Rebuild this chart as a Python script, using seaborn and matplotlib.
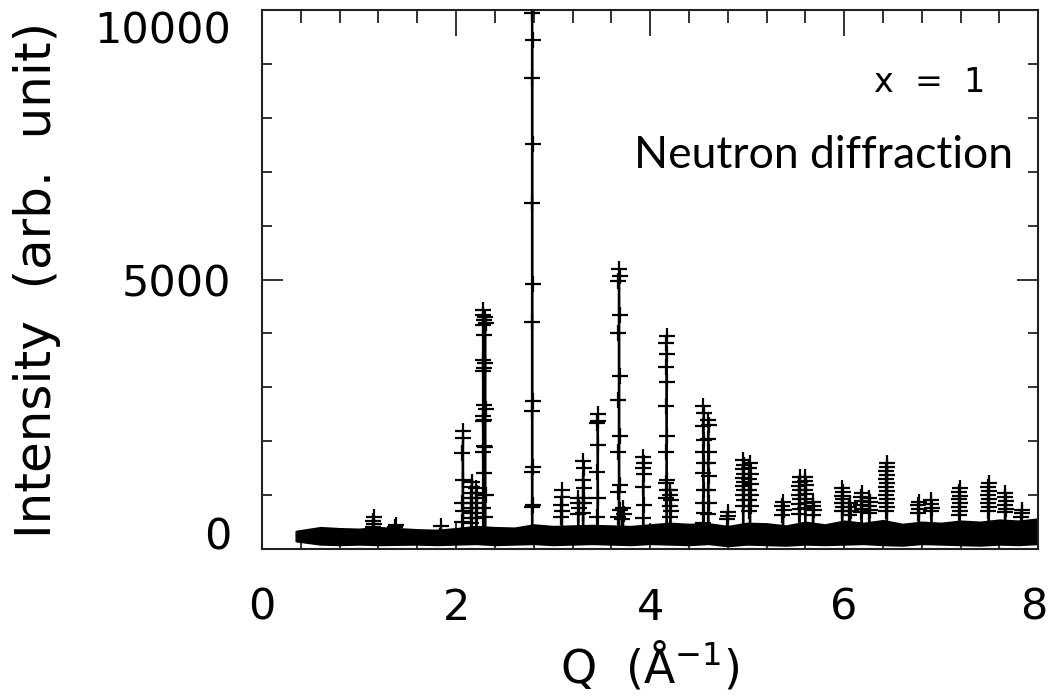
import numpy as np
import pandas as pd
import matplotlib
matplotlib.use("Agg")
import matplotlib.pyplot as plt
import matplotlib.transforms as mtransforms
import seaborn as sns
from matplotlib.ticker import MultipleLocator

sns.set_theme(style="ticks")
plt.rcParams['font.family'] = ['DejaVu Sans']
plt.rcParams['mathtext.fontset'] = 'dejavusans'
plt.rcParams['text.color'] = 'black'
plt.rcParams['axes.labelcolor'] = 'black'

# ---------------- data ----------------
bg_q = [0.35, 0.6, 0.8, 1.0, 1.2, 1.4, 1.6, 1.8, 2.0, 2.2, 2.4, 2.6, 2.8,
        3.0, 3.2, 3.4, 3.6, 3.8, 4.0, 4.2, 4.4, 4.6, 4.8, 5.0, 5.2, 5.4,
        5.6, 5.8, 6.0, 6.2, 6.4, 6.6, 6.8, 7.0, 7.2, 7.4, 7.6, 7.8, 8.0]
bg_upper = [330, 400, 380, 370, 400, 380, 360, 350, 380, 420, 400, 390, 450,
            420, 430, 440, 430, 420, 450, 480, 460, 470, 420, 480, 470, 430,
            500, 450, 520, 480, 530, 460, 500, 480, 520, 500, 540, 520, 560]
bg_lower = [150, 90, 80, 90, 80, 85, 90, 80, 90, 100, 80, 90, 100,
            80, 90, 100, 90, 80, 100, 90, 80, 100, 60, 90, 80, 70,
            90, 80, 90, 100, 80, 70, 100, 90, 80, 70, 90, 80, 100]

peak_q = [1.15, 1.38, 1.84, 2.07, 2.16, 2.21, 2.28, 2.30, 2.785, 3.09,
          3.26, 3.31, 3.46, 3.68, 3.72, 3.93, 4.17, 4.21, 4.55, 4.60,
          4.80, 4.96, 5.03, 5.37, 5.54, 5.60, 5.68, 5.98, 6.06, 6.18,
          6.26, 6.44, 6.77, 6.90, 7.19, 7.49, 7.66, 7.83]
peak_marks = [
    [600, 520, 460, 400],
    [450, 400],
    [430],
    [2181, 2063, 1785, 1283, 855, 700, 502],
    [1251, 1153, 1041, 948, 855, 762, 669, 576, 483],
    [1134, 1041, 948, 855, 762, 669, 576],
    [4443, 4350, 4257, 4164, 3978, 3513, 3359, 3296, 2677, 2459, 2398,
     2367, 1902, 1809, 1407, 762],
    [4300, 4200, 3450, 2600, 1900, 1000, 600],
    [10400, 9945, 9444, 8737, 7510, 6413, 4921, 4220, 2739, 2566, 1530,
     1437, 818, 786],
    [1097, 973, 818, 700, 600],
    [948, 850, 760, 650],
    [1624, 1500, 1283, 1128, 942, 850, 664],
    [2510, 2367, 2336, 1933, 1437, 942, 600],
    [5187, 5062, 4969, 4337, 4010, 3203, 2770, 2101, 1797, 1190, 1066,
     725, 600],
    [760, 650, 560],
    [1716, 1593, 1500, 1394, 1147, 818, 571],
    [3947, 3824, 3619, 3370, 3092, 2646, 2088, 1797, 1283, 1221, 1097, 942],
    [1097, 1000, 900, 800, 700, 600],
    [2646, 2522, 2274, 2026, 1809, 1593, 1407, 1097, 850, 664, 478],
    [2398, 2300, 2050, 1800, 1600, 1350, 1100, 850, 650],
    [694, 620, 560],
    [1655, 1550, 1480, 1400, 1320, 1250, 1170, 1100, 1000, 900, 800],
    [1593, 1500, 1400, 1300, 1200, 1100, 1000, 900, 800, 700],
    [880, 800, 720, 640],
    [1345, 1250, 1170, 1100, 1000, 920, 830, 750, 650],
    [1345, 1270, 1190, 1100, 1020, 930, 850, 760],
    [880, 800, 720, 640],
    [1128, 1060, 990, 920, 850, 780, 700],
    [850, 780, 710, 640],
    [1035, 960, 890, 820, 750, 680],
    [942, 870, 800, 730, 660],
    [1593, 1520, 1450, 1380, 1300, 1230, 1150, 1080, 1000, 930, 850, 780, 700],
    [880, 810, 740, 670],
    [911, 840, 770, 700],
    [1128, 1060, 990, 920, 850, 780, 700, 640],
    [1221, 1150, 1080, 1000, 930, 860, 780, 700],
    [1035, 960, 890, 820, 750, 680],
    [725, 660, 600],
]

x_ticks = [0, 2, 4, 6, 8]
y_ticks = [0, 5000, 10000]
label_x = "Q  (Å$^{-1}$)"
label_y = "Intensity  (arb.  unit)"
text_x = "x  =  1"
text_method = "Neutron diffraction"

# ---------------- build long table for the peaks ----------------
base = 250
half_w = 0.006
rows = []
for i, (q, marks) in enumerate(zip(peak_q, peak_marks)):
    m = sorted(marks)
    top = m[-1]
    rest = m[:-1]
    up = rest[0::2]
    down = rest[1::2][::-1]
    seq = [(q - half_w, base)] + [(q - half_w, v) for v in up] + [(q, top)] \
        + [(q + half_w, v) for v in down] + [(q + half_w, base)]
    for order, (xx, yy) in enumerate(seq):
        rows.append({"Q": xx, "I": yy, "peak": i, "order": order})
df = pd.DataFrame(rows)

# ---------------- figure ----------------
fig = plt.figure(figsize=(10.49, 6.96), dpi=100)
ax = fig.add_axes([0.2498, 0.2112, 0.7399, 0.7744])

ax.fill_between(bg_q, bg_lower, bg_upper, color="black", lw=1.5, zorder=2)
sns.lineplot(data=df, x="Q", y="I", units="peak", estimator=None, sort=False,
             color="black", linewidth=1.1, marker="+", markersize=12,
             markeredgewidth=1.6, markeredgecolor="black", ax=ax, zorder=3)

ax.set_xlim(0, 8)
ax.set_ylim(0, 10000)
ax.set_xticks(x_ticks)
ax.set_xticklabels([str(t) for t in x_ticks])
ax.set_yticks(y_ticks)
ax.set_yticklabels([str(t) for t in y_ticks])
ax.xaxis.set_minor_locator(MultipleLocator(0.4))
ax.yaxis.set_minor_locator(MultipleLocator(1000))

ax.tick_params(axis="both", which="both", direction="in", top=True,
               right=True, color="#222222", width=1.3, labelsize=31,
               labelcolor="black")
ax.tick_params(axis="x", which="major", length=19, pad=27)
ax.tick_params(axis="x", which="minor", length=9)
ax.tick_params(axis="y", which="major", length=15, pad=22)
ax.tick_params(axis="y", which="minor", length=7)

ylabs = ax.get_yticklabels()
ylabs[0].set_va("baseline")
ylabs[-1].set_va("top")

# keep the last x tick label inside the canvas
xlabs = ax.get_xticklabels()
shift = mtransforms.ScaledTranslation(-4 / 100, 0, fig.dpi_scale_trans)
xlabs[-1].set_transform(xlabs[-1].get_transform() + shift)

for sp in ax.spines.values():
    sp.set_linewidth(1.5)
    sp.set_color("#222222")

ax.set_xlabel(label_x, fontsize=33, labelpad=8, color="black")
ax.set_ylabel(label_y, fontsize=36, labelpad=24, color="black")

ax.text(0.932, 0.866, text_x, transform=ax.transAxes, ha="right",
        va="center", fontsize=24, color="black")
ax.text(0.968, 0.731, text_method, transform=ax.transAxes, ha="right",
        va="center", fontsize=32, color="black", family=["Lato", "DejaVu Sans"])

fig.savefig("out.png", dpi=100)
